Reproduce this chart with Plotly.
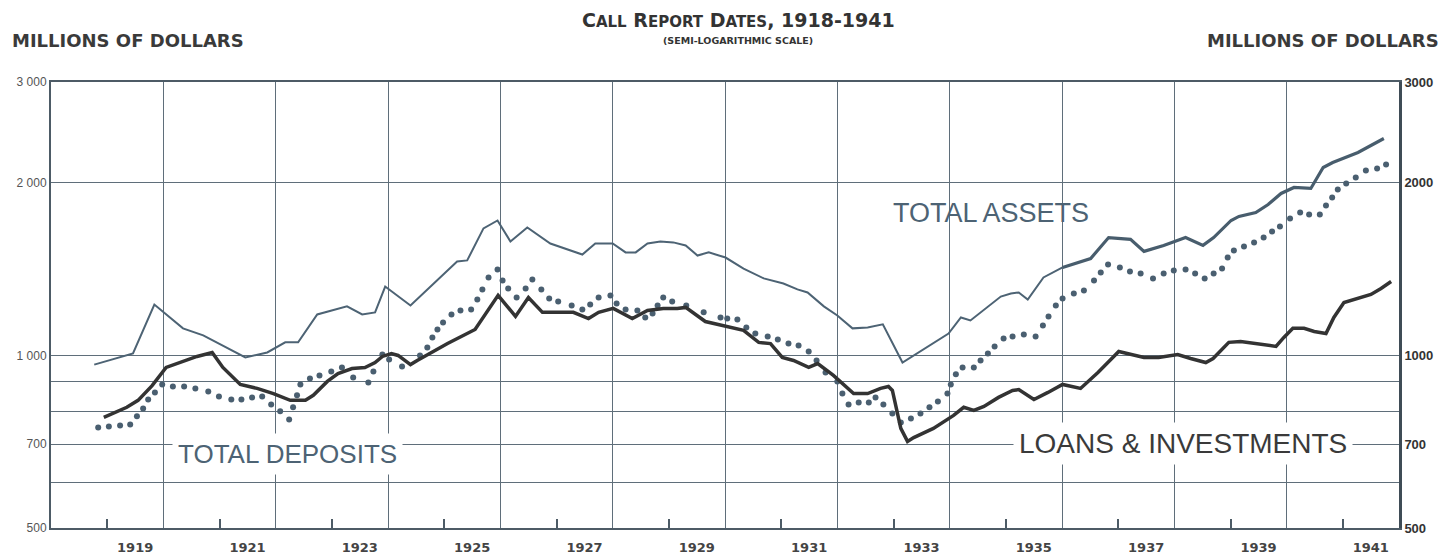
import math
import plotly.graph_objects as go

# ---------------- data ----------------
ta_year = [1918.77, 1919.46, 1919.84, 1920.35, 1920.71, 1921.46, 1921.85, 1922.17, 1922.40, 1922.74,
           1923.27, 1923.54, 1923.77, 1923.95, 1924.40, 1925.23, 1925.41, 1925.70, 1925.95, 1926.18,
           1926.48, 1926.89, 1927.46, 1927.69, 1928.00, 1928.23, 1928.41, 1928.62, 1928.85, 1929.08,
           1929.30, 1929.51, 1929.71, 1929.92, 1930.01, 1930.33, 1930.69, 1931.04, 1931.29, 1931.47,
           1931.76, 1932.00, 1932.27, 1932.54, 1932.81, 1933.16, 1933.98, 1934.20, 1934.37, 1934.91,
           1935.09, 1935.23, 1935.39, 1935.67, 1936.01, 1936.28, 1936.51, 1936.83, 1937.22, 1937.46,
           1937.81, 1938.20, 1938.51, 1938.70, 1939.01, 1939.15, 1939.45, 1939.67, 1939.90, 1940.13,
           1940.43, 1940.65, 1940.82, 1941.27, 1941.73]
ta_val = [964, 1008, 1227, 1115, 1084, 992, 1012, 1054, 1054, 1179,
          1218, 1179, 1189, 1319, 1222, 1459, 1465, 1666, 1720, 1581,
          1672, 1568, 1500, 1568, 1568, 1513, 1513, 1568, 1581, 1575,
          1556, 1494, 1513, 1494, 1482, 1418, 1363, 1335, 1304, 1288,
          1218, 1174, 1115, 1119, 1133, 972, 1092, 1165, 1151, 1267,
          1283, 1288, 1252, 1368, 1424, 1453, 1476, 1606, 1594, 1519,
          1556, 1606, 1556, 1606, 1720, 1748, 1776, 1834, 1917, 1964,
          1956, 2128, 2171, 2260, 2391]

td_year = [1918.84, 1919.03, 1919.23, 1919.41, 1919.53, 1919.64, 1919.73, 1919.85, 1919.98, 1920.17,
           1920.37, 1920.57, 1920.80, 1920.99, 1921.21, 1921.39, 1921.58, 1921.76, 1921.92, 1922.08,
           1922.24, 1922.31, 1922.38, 1922.44, 1922.61, 1922.78, 1922.99, 1923.18, 1923.38, 1923.65,
           1923.74, 1923.90, 1924.02, 1924.25, 1924.57, 1924.70, 1924.79, 1924.88, 1924.98, 1925.13,
           1925.29, 1925.48, 1925.59, 1925.68, 1925.79, 1925.95, 1926.04, 1926.14, 1926.29, 1926.45,
           1926.57, 1926.73, 1926.87, 1927.03, 1927.27, 1927.46, 1927.60, 1927.75, 1927.96, 1928.07,
           1928.23, 1928.44, 1928.58, 1928.71, 1928.80, 1928.90, 1929.06, 1929.31, 1929.62, 1929.92,
           1930.04, 1930.22, 1930.38, 1930.54, 1930.76, 1930.94, 1931.13, 1931.31, 1931.49, 1931.63,
           1931.79, 1932.00, 1932.09, 1932.20, 1932.38, 1932.56, 1932.68, 1932.82, 1932.98, 1933.13,
           1933.31, 1933.48, 1933.64, 1933.79, 1933.96, 1934.02, 1934.11, 1934.23, 1934.43, 1934.55,
           1934.68, 1934.80, 1934.96, 1935.12, 1935.32, 1935.53, 1935.66, 1935.76, 1935.89, 1936.01,
           1936.21, 1936.39, 1936.57, 1936.69, 1936.82, 1937.03, 1937.21, 1937.40, 1937.62, 1937.81,
           1937.99, 1938.20, 1938.37, 1938.54, 1938.70, 1938.85, 1938.95, 1939.06, 1939.24, 1939.42,
           1939.59, 1939.74, 1939.88, 1940.06, 1940.24, 1940.40, 1940.59, 1940.70, 1940.81, 1940.91,
           1941.06, 1941.23, 1941.41, 1941.61, 1941.77]
td_val = [749, 752, 755, 758, 783, 808, 838, 862, 890, 883,
          883, 876, 865, 848, 838, 838, 845, 848, 821, 799,
          773, 812, 852, 890, 912, 923, 938, 953, 915, 897,
          938, 1004, 984, 957, 1000, 1033, 1075, 1110, 1142, 1179,
          1198, 1203, 1252, 1304, 1368, 1413, 1352, 1309, 1262, 1309,
          1357, 1304, 1257, 1242, 1222, 1203, 1227, 1262, 1273, 1232,
          1203, 1198, 1165, 1184, 1222, 1262, 1242, 1222, 1189, 1165,
          1160, 1156, 1119, 1092, 1079, 1066, 1049, 1041, 1016, 980,
          934, 901, 858, 821, 828, 828, 845, 821, 792, 764,
          776, 792, 812, 831, 858, 890, 927, 953, 953, 980,
          1008, 1037, 1071, 1079, 1088, 1079, 1128, 1170, 1222, 1257,
          1283, 1298, 1352, 1396, 1441, 1424, 1401, 1390, 1363, 1390,
          1407, 1413, 1390, 1363, 1390, 1418, 1482, 1525, 1549, 1575,
          1606, 1646, 1679, 1734, 1776, 1762, 1762, 1827, 1886, 1948,
          1995, 2044, 2103, 2120, 2154]

ln_year = [1918.94, 1919.35, 1919.55, 1919.80, 1920.05, 1920.30, 1920.60, 1920.87, 1921.06, 1921.37,
           1921.67, 1921.96, 1922.26, 1922.53, 1922.67, 1922.92, 1923.11, 1923.36, 1923.59, 1923.77,
           1923.90, 1924.06, 1924.18, 1924.40, 1924.52, 1925.06, 1925.55, 1925.96, 1926.27, 1926.50,
           1926.75, 1927.07, 1927.30, 1927.57, 1927.75, 1928.01, 1928.35, 1928.62, 1928.90, 1929.15,
           1929.30, 1929.65, 1929.88, 1930.33, 1930.60, 1930.81, 1931.02, 1931.22, 1931.49, 1931.65,
           1931.93, 1932.29, 1932.54, 1932.77, 1932.91, 1932.98, 1933.13, 1933.25, 1933.36, 1933.71,
           1934.07, 1934.25, 1934.43, 1934.61, 1934.87, 1935.12, 1935.23, 1935.50, 1935.75, 1936.01,
           1936.33, 1936.64, 1937.01, 1937.22, 1937.46, 1937.72, 1938.06, 1938.29, 1938.56, 1938.69,
           1938.97, 1939.18, 1939.49, 1939.81, 1939.95, 1940.11, 1940.31, 1940.49, 1940.70, 1940.84,
           1941.02, 1941.27, 1941.50, 1941.68, 1941.86]
ln_val = [780, 812, 835, 886, 953, 972, 996, 1012, 953, 890,
          876, 858, 835, 835, 852, 901, 930, 949, 953, 972,
          996, 1008, 1000, 964, 980, 1049, 1110, 1273, 1170, 1262,
          1189, 1189, 1189, 1160, 1189, 1208, 1160, 1198, 1208, 1208,
          1213, 1146, 1133, 1106, 1054, 1049, 992, 980, 953, 968,
          923, 858, 858, 876, 883, 869, 746, 708, 719, 746,
          786, 812, 802, 815, 845, 869, 872, 838, 862, 890,
          876, 934, 1016, 1004, 992, 992, 1004, 988, 972, 988,
          1054, 1058, 1049, 1037, 1075, 1115, 1115, 1101, 1092, 1165,
          1237, 1257, 1278, 1309, 1346]

label_years = [1919, 1921, 1923, 1925, 1927, 1929, 1931, 1933, 1935, 1937, 1939, 1941]
grid_years = [1920, 1922, 1924, 1926, 1928, 1930, 1932, 1934, 1936, 1938, 1940]
y_ticks = [500, 700, 1000, 2000, 3000]
y_left_text = ["500", "700", "1 000", "2 000", "3 000"]
y_right_text = ["500", "700", "1000", "2000", "3000"]
y_minor = [600, 800, 900]

# ---------------- styles ----------------
GRID = "#5f6e7a"
AXIS = "#4d5b66"
BLUE = "#4d6374"
DARK = "#333333"
Y_RANGE = [math.log10(500), math.log10(3000)]

fig = go.Figure()
split = ta_year.index(1936.01)
fig.add_trace(go.Scatter(x=ta_year[:split + 1], y=ta_val[:split + 1], mode="lines",
                         line=dict(color=BLUE, width=2), hoverinfo="skip"))
fig.add_trace(go.Scatter(x=ta_year[split:], y=ta_val[split:], mode="lines",
                         line=dict(color="#485d6d", width=3.2), hoverinfo="skip"))
fig.add_trace(go.Scatter(x=td_year, y=td_val, mode="markers",
                         marker=dict(size=6, color="#4a5f70"), hoverinfo="skip"))
fig.add_trace(go.Scatter(x=ln_year, y=ln_val, mode="lines", yaxis="y2",
                         line=dict(color=DARK, width=3.5), hoverinfo="skip"))

fig.update_layout(
    width=1445, height=558, autosize=False,
    margin=dict(l=51, r=46, t=82, b=30, autoexpand=False),
    paper_bgcolor="white", plot_bgcolor="white",
    showlegend=False,
    xaxis=dict(
        range=[1918, 1942], tickmode="array", tickvals=label_years,
        ticktext=[str(y) for y in label_years],
        ticks="inside", ticklen=9, tickwidth=1.5, tickcolor=AXIS,
        ticklabelshift=28, ticklabelstandoff=6, automargin=False,
        showgrid=False, zeroline=False,
        showline=True, linecolor=AXIS, linewidth=2, mirror=True,
        tickfont=dict(family="DejaVu Sans", size=13, color="#444444", weight="bold"),
        minor=dict(tickmode="array", tickvals=grid_years, showgrid=True,
                   gridcolor=GRID, gridwidth=1.4, ticks=""),
    ),
    yaxis=dict(
        type="log", range=Y_RANGE, tickmode="array", tickvals=y_ticks, ticktext=y_left_text,
        showgrid=True, gridcolor=GRID, gridwidth=1.4, ticks="", zeroline=False,
        showline=True, linecolor=AXIS, linewidth=2, automargin=False,
        tickfont=dict(family="Liberation Sans", size=12, color="#555555"),
        minor=dict(tickmode="array", tickvals=y_minor, showgrid=True,
                   gridcolor=GRID, gridwidth=1.4, ticks=""),
    ),
    yaxis2=dict(
        type="log", range=Y_RANGE, overlaying="y", side="right",
        tickmode="array", tickvals=y_ticks, ticktext=y_right_text,
        showgrid=False, ticks="", zeroline=False, automargin=False,
        showline=True, linecolor="#3f4c56", linewidth=2.6,
        tickfont=dict(family="Liberation Sans", size=13, color="#333333", weight="bold"),
    ),
)

def label(text, x, y, size, color, family="Liberation Sans", weight="normal", xanchor="center", **kw):
    return dict(text=text, x=x, y=y, xref="paper", yref="paper", showarrow=False,
                xanchor=xanchor, yanchor="middle",
                font=dict(family=family, size=size, color=color, weight=weight), **kw)

ann = [
    label("C<span style='font-size:15px'>ALL</span> R<span style='font-size:15px'>EPORT</span> "
          "D<span style='font-size:15px'>ATES</span>, 1918-1941",
          0.510, 1.139, 19, "#333333", family="DejaVu Sans", weight="bold"),
    label("(SEMI-LOGARITHMIC SCALE)", 0.510, 1.094, 9.5, "#333333", family="DejaVu Sans", weight="bold"),
    label("MILLIONS OF DOLLARS", -0.0304, 1.094, 18, "#3a3a3a", family="DejaVu Sans",
          weight="bold", xanchor="left"),
    label("MILLIONS OF DOLLARS", 1.031, 1.094, 18, "#3a3a3a", family="DejaVu Sans",
          weight="bold", xanchor="right"),
    label("TOTAL ASSETS", 0.697, 0.706, 27, BLUE),
    label("TOTAL DEPOSITS", 0.1752, 0.166, 26, BLUE, bgcolor="white", borderpad=5),
    label("LOANS &amp; INVESTMENTS", 0.840, 0.190, 28, "#3a3a3a", bgcolor="white", borderpad=5),
]
fig.update_layout(annotations=ann)

fig.write_html("out.html", config={"displayModeBar": False},
               post_script="document.body.style.margin='0';")
